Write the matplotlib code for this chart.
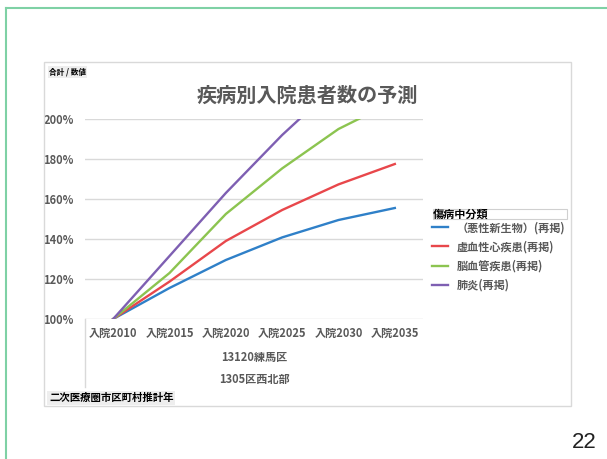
import matplotlib.pyplot as plt
from matplotlib.lines import Line2D
from matplotlib.patches import Rectangle
from matplotlib.ticker import PercentFormatter

plt.rcParams['font.family'] = ['Noto Sans CJK JP', 'DejaVu Sans']

# 入院患者数の伸び率 (2010年 = 100%)
years = ['入院2010', '入院2015', '入院2020', '入院2025', '入院2030', '入院2035']
series_names = ['（悪性新生物）(再掲)', '虚血性心疾患(再掲)', '脳血管疾患(再掲)', '肺炎(再掲)']
neoplasm = [1.00, 1.155, 1.295, 1.408, 1.495, 1.555]
ischemic = [1.00, 1.187, 1.390, 1.545, 1.673, 1.775]
cerebro = [1.00, 1.230, 1.525, 1.753, 1.950, 2.090]
pneumonia = [1.00, 1.315, 1.630, 1.920, 2.180, 2.400]
colors = ['#2f80c8', '#e8474b', '#8cc450', '#7e5fb2']

W, H = 607, 459
gray = '#595959'


def fx(px):
    return px / W


def fy(py):
    return 1 - py / H


fig = plt.figure(figsize=(W / 100, H / 100), dpi=100)

# slide frame and chart area
fig.add_artist(Line2D([fx(5.5), 1], [fy(7.5), fy(7.5)], color='#7fd1a5', lw=1.5))
fig.add_artist(Line2D([fx(5.5), fx(5.5)], [fy(7.5), 0], color='#7fd1a5', lw=1.5))
fig.add_artist(Rectangle((fx(44), fy(406)), fx(571) - fx(44), fy(62) - fy(406),
                         transform=fig.transFigure, fill=False, ec='#d9d9d9', lw=1))

ax = fig.add_axes([fx(85), fy(319), fx(423) - fx(85), fy(119) - fy(319)])
x = range(len(years))
for vals, c, name in zip([neoplasm, ischemic, cerebro, pneumonia], colors, series_names):
    ax.plot(x, vals, color=c, lw=1.7, label=name)

ax.set_xlim(-0.5, len(years) - 0.5)
ax.set_ylim(1.0, 2.0)
ax.set_yticks([1.0, 1.2, 1.4, 1.6, 1.8, 2.0])
ax.yaxis.set_major_formatter(PercentFormatter(1.0, decimals=0))
ax.set_xticks(list(x))
ax.set_xticklabels(years)
ax.tick_params(length=0, labelsize=8, labelcolor=gray)
ax.tick_params(axis='y', pad=8)
ax.tick_params(axis='x', pad=6)
for lab in ax.get_xticklabels() + ax.get_yticklabels():
    lab.set_fontweight('bold')
for s in ax.spines.values():
    s.set_visible(False)
ax.grid(axis='y', color='#d9d9d9', lw=1)
ax.set_axisbelow(True)

# category group labels below the year axis
ax.plot([0, 0], [0, -(387 - 319) / 200], transform=ax.transAxes, color='#d9d9d9',
        lw=1, clip_on=False)
ax.text(0.5, -(358 - 319) / 200, '13120練馬区', transform=ax.transAxes, ha='center',
        va='center', fontsize=8, color=gray, fontweight='bold')
ax.text(0.5, -(380 - 319) / 200, '1305区西北部', transform=ax.transAxes, ha='center',
        va='center', fontsize=8, color=gray, fontweight='bold')

fig.text(fx(307), fy(95), '疾病別入院患者数の予測', ha='center', va='center',
         fontsize=14.5, color=gray, fontweight='bold')
fig.text(fx(49), fy(72), '合計 / 数値', ha='left', va='center', fontsize=5.5,
         fontweight='bold', color='black',
         bbox=dict(boxstyle='square,pad=0.15', fc='#eeeeee', ec='none'))
fig.text(fx(49), fy(398), '二次医療圏市区町村推計年', ha='left', va='center', fontsize=7.5,
         fontweight='bold', color='black',
         bbox=dict(boxstyle='square,pad=0.15', fc='#eeeeee', ec='none'))

# legend with field header
fig.add_artist(Rectangle((fx(433), fy(219)), fx(567) - fx(433), fy(209) - fy(219),
                         transform=fig.transFigure, fill=False, ec='#d0d0d0', lw=0.8))
fig.text(fx(433), fy(214.5), '傷病中分類', ha='left', va='center', fontsize=8,
         fontweight='bold', color='black')
leg = fig.legend(loc='upper left', bbox_to_anchor=(fx(430), fy(219)), frameon=False,
                 fontsize=8, labelcolor=gray, handlelength=1.4, handletextpad=0.8,
                 labelspacing=0.55, borderaxespad=0, borderpad=0.2)
for t in leg.get_texts():
    t.set_fontweight('bold')

fig.text(fx(584), fy(442), '22', ha='center', va='center', fontsize=16,
         family='Liberation Sans', color='#222222')

fig.savefig('out.png', dpi=100)
